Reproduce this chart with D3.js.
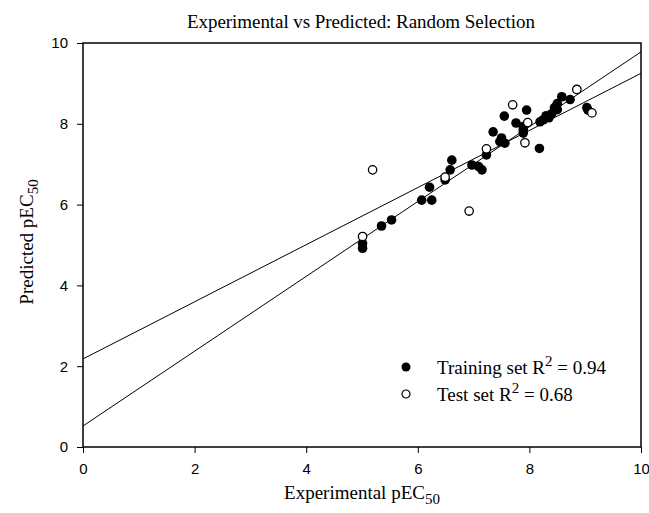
<!DOCTYPE html>
<html>
<head>
<meta charset="utf-8">
<script src="https://cdn.jsdelivr.net/npm/d3@7"></script>
<style>
  body { margin: 0; background: #fff; }
  svg { display: block; }
  .tick text { font-family: 'Liberation Sans', Arial, sans-serif; font-size: 15px; }
  .serif { font-family: 'Liberation Serif', 'Times New Roman', serif; }
</style>
</head>
<body>
<div id="chart"></div>
<script>
const trainX = [5.01, 5.01, 5.35, 5.53, 6.07, 6.25, 6.21, 6.49, 6.58, 6.61, 6.97, 7.09, 7.15, 7.23, 7.35,
  7.47, 7.50, 7.56, 7.55, 7.76, 7.89, 7.89, 7.89, 7.95, 8.18, 8.19, 8.25, 8.30, 8.35, 8.40, 8.45,
  8.50, 8.50, 8.58, 8.73, 9.03, 9.05];
const trainY = [4.92, 5.04, 5.47, 5.62, 6.11, 6.11, 6.43, 6.61, 6.86, 7.10, 6.98, 6.94, 6.86, 7.23, 7.80,
  7.56, 7.65, 7.52, 8.19, 8.02, 7.85, 7.77, 7.93, 8.34, 7.39, 8.05, 8.10, 8.20, 8.15, 8.25, 8.40,
  8.35, 8.50, 8.67, 8.60, 8.40, 8.34];
const testX = [5.01, 5.19, 6.49, 6.92, 7.23, 7.70, 7.92, 7.97, 8.85, 9.12];
const testY = [5.21, 6.86, 6.68, 5.84, 7.38, 8.47, 7.53, 8.03, 8.85, 8.27];

// regression lines, end points at x = 0 and x = 10
const trainFit = [[0, 0.52], [10, 9.78]];
const testFit = [[0, 2.18], [10, 9.25]];

const xTicks = [0, 2, 4, 6, 8, 10];
const yTicks = [0, 2, 4, 6, 8, 10];

const legendItems = [
  { label: 'Training set R', value: ' = 0.94', filled: true },
  { label: 'Test set R', value: ' = 0.68', filled: false }
];

const svg = d3.select('#chart')
  .append('svg')
    .attr('width', 649)
    .attr('height', 513);

const plotLeft = 83, plotRight = 641, plotTop = 43, plotBottom = 447;

const x = d3.scaleLinear().domain([0, 10]).range([plotLeft, plotRight]);
const y = d3.scaleLinear().domain([0, 10]).range([plotBottom, plotTop]);

svg.append('text')
    .attr('class', 'serif')
    .attr('x', 361)
    .attr('y', 28)
    .attr('text-anchor', 'middle')
    .attr('font-size', '19px')
    .attr('textLength', 348)
    .text('Experimental vs Predicted: Random Selection');

// frame
svg.append('rect')
    .attr('x', plotLeft)
    .attr('y', plotTop)
    .attr('width', plotRight - plotLeft)
    .attr('height', plotBottom - plotTop)
    .attr('fill', 'none')
    .attr('stroke', '#000')
    .attr('stroke-width', 1.5);

svg.append('g')
    .attr('transform', `translate(0,${plotBottom})`)
    .call(d3.axisBottom(x).tickValues(xTicks).tickSize(6).tickPadding(10).tickFormat(d3.format('d')))
    .call(g => g.select('.domain').remove());

svg.append('g')
    .attr('transform', `translate(${plotLeft},0)`)
    .call(d3.axisLeft(y).tickValues(yTicks).tickSize(6).tickPadding(9).tickFormat(d3.format('d')))
    .call(g => g.select('.domain').remove());

// regression lines
const line = d3.line().x(d => x(d[0])).y(d => y(d[1]));
svg.append('g')
  .selectAll('path')
  .data([trainFit, testFit])
  .join('path')
    .attr('d', line)
    .attr('fill', 'none')
    .attr('stroke', '#000')
    .attr('stroke-width', 1);

// points
svg.append('g')
  .selectAll('circle')
  .data(trainX.map((v, i) => [v, trainY[i]]))
  .join('circle')
    .attr('cx', d => x(d[0]))
    .attr('cy', d => y(d[1]))
    .attr('r', 4.8)
    .attr('fill', '#000');

svg.append('g')
  .selectAll('circle')
  .data(testX.map((v, i) => [v, testY[i]]))
  .join('circle')
    .attr('cx', d => x(d[0]))
    .attr('cy', d => y(d[1]))
    .attr('r', 4.2)
    .attr('fill', '#fff')
    .attr('stroke', '#000')
    .attr('stroke-width', 1.3);

// axis titles
const xt = svg.append('text')
    .attr('class', 'serif')
    .attr('x', 362)
    .attr('y', 499)
    .attr('text-anchor', 'middle')
    .attr('font-size', '19px')
    .text('Experimental pEC');
xt.append('tspan').attr('dy', 5).attr('font-size', '15px').text('50');

const yt = svg.append('text')
    .attr('class', 'serif')
    .attr('transform', 'translate(33,242) rotate(-90)')
    .attr('text-anchor', 'middle')
    .attr('font-size', '19px')
    .text('Predicted pEC');
yt.append('tspan').attr('dy', 5).attr('font-size', '15px').text('50');

// legend
const legend = svg.append('g')
    .attr('transform', 'translate(406,367)');

const item = legend.selectAll('g')
  .data(legendItems)
  .join('g')
    .attr('transform', (d, i) => `translate(0,${i * 27})`);

item.append('circle')
    .attr('r', d => d.filled ? 4.5 : 4)
    .attr('fill', d => d.filled ? '#000' : '#fff')
    .attr('stroke', '#000')
    .attr('stroke-width', d => d.filled ? 0 : 1.2);

const lt = item.append('text')
    .attr('class', 'serif')
    .attr('x', 31)
    .attr('y', 7)
    .attr('font-size', '19px')
    .text(d => d.label);
lt.append('tspan').attr('dy', -8).attr('font-size', '15px').text('2');
lt.append('tspan').attr('dy', 8).text(d => d.value);
</script>
</body>
</html>
